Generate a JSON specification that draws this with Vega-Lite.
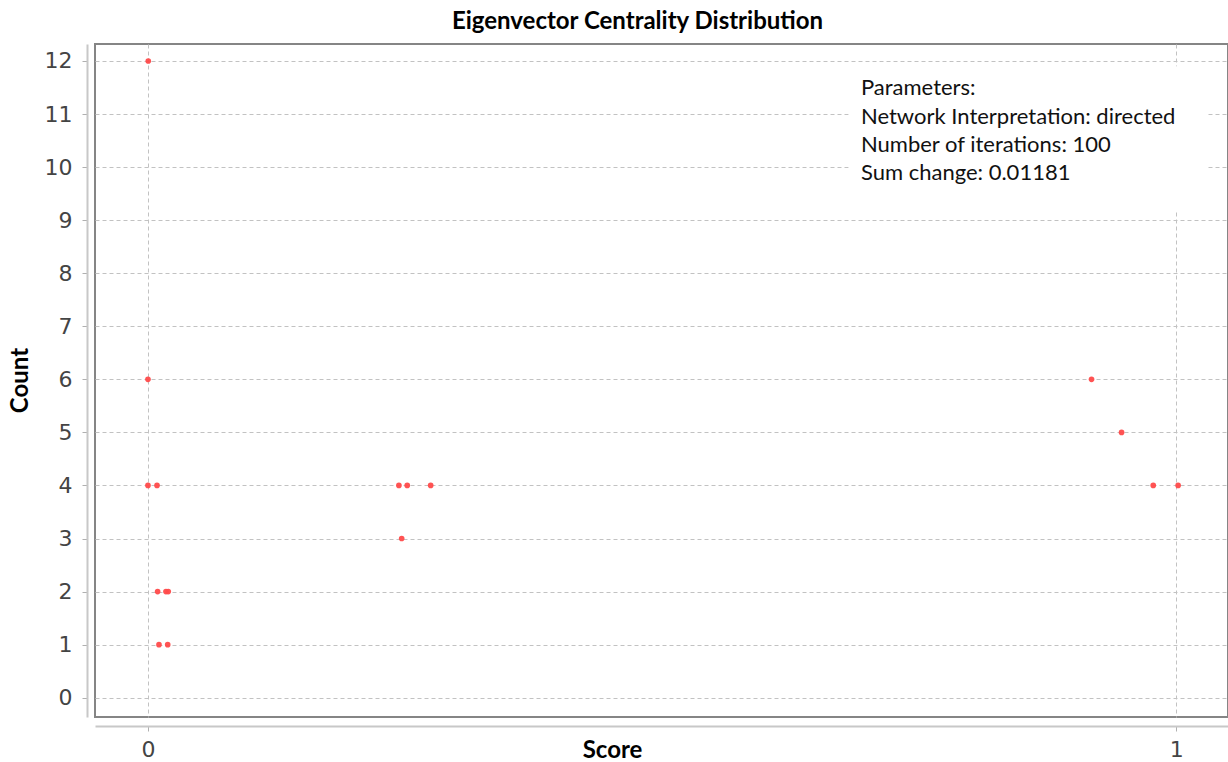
{
  "$schema": "https://vega.github.io/schema/vega-lite/v6.json",
  "autosize": "none",
  "padding": {"left": 95, "top": 44, "right": 0, "bottom": 45},
  "width": 1133,
  "height": 673,
  "background": "white",
  "title": {
    "text": "Eigenvector Centrality Distribution",
    "anchor": "middle",
    "frame": "group",
    "dx": -24,
    "dy": 24,
    "baseline": "alphabetic",
    "offset": 15,
    "font": "Lato",
    "fontSize": 24,
    "fontWeight": "bold",
    "color": "#000000"
  },
  "config": {
    "view": {"stroke": "#858585", "strokeWidth": 2},
    "axis": {
      "grid": true,
      "gridColor": "#c2c2c2",
      "gridDash": [4, 3],
      "gridWidth": 1,
      "domainColor": "#c8c8c8",
      "domainWidth": 2,
      "tickColor": "#b0b0b0",
      "tickSize": 5,
      "labelFont": "DejaVu Sans",
      "labelFontSize": 22,
      "labelColor": "#444444",
      "titleFont": "Lato",
      "titleFontSize": 24,
      "titleFontWeight": "bold",
      "titleColor": "#000000"
    }
  },
  "datasets": {
    "points": [
      {"score": 0.0003, "count": 12},
      {"score": 0.0, "count": 6},
      {"score": 0.0, "count": 4},
      {"score": 0.0088, "count": 4},
      {"score": 0.244, "count": 4},
      {"score": 0.2521, "count": 4},
      {"score": 0.2749, "count": 4},
      {"score": 0.2467, "count": 3},
      {"score": 0.9175, "count": 6},
      {"score": 0.9467, "count": 5},
      {"score": 0.9775, "count": 4},
      {"score": 1.0017, "count": 4},
      {"score": 0.0094, "count": 2},
      {"score": 0.0175, "count": 2},
      {"score": 0.0197, "count": 2},
      {"score": 0.0107, "count": 1},
      {"score": 0.0192, "count": 1}
    ],
    "box": [
      {"x1": 0.6815, "x2": 1.0295, "y1": 11.9, "y2": 9.16}
    ],
    "notes": [
      {"x": 0.6933, "y": 11.35, "line": "Parameters:"},
      {"x": 0.6933, "y": 10.82, "line": "Network Interpretation: directed"},
      {"x": 0.6933, "y": 10.28, "line": "Number of iterations: 100"},
      {"x": 0.6933, "y": 9.76, "line": "Sum change: 0.01181"}
    ]
  },
  "layer": [
    {
      "data": {"name": "points"},
      "mark": {"type": "circle", "size": 32, "color": "#ff4a4a", "opacity": 0.95},
      "encoding": {
        "x": {
          "field": "score",
          "type": "quantitative",
          "scale": {"domain": [-0.0515, 1.0502], "nice": false, "zero": false},
          "axis": {
            "values": [0, 1],
            "format": "d",
            "offset": 9,
            "labelPadding": 8,
            "title": "Score",
            "titleX": 517,
            "titleY": 24,
            "titleAnchor": "middle",
            "titleAlign": "center",
            "titleBaseline": "middle"
          }
        },
        "y": {
          "field": "count",
          "type": "quantitative",
          "scale": {"domain": [-0.364, 12.32], "nice": false, "zero": false},
          "axis": {
            "values": [0, 1, 2, 3, 4, 5, 6, 7, 8, 9, 10, 11, 12],
            "format": "d",
            "offset": 8,
            "labelPadding": 10,
            "title": "Count",
            "titleX": -67,
            "titleY": 336,
            "titleAngle": -90,
            "titleAlign": "center",
            "titleBaseline": "middle"
          }
        }
      }
    },
    {
      "data": {"name": "box"},
      "mark": {"type": "rect", "fill": "white", "stroke": null},
      "encoding": {
        "x": {"field": "x1", "type": "quantitative"},
        "x2": {"field": "x2"},
        "y": {"field": "y1", "type": "quantitative"},
        "y2": {"field": "y2"}
      }
    },
    {
      "data": {"name": "notes"},
      "mark": {"type": "text", "align": "left", "baseline": "alphabetic", "font": "Lato", "fontSize": 22, "color": "#111111"},
      "encoding": {
        "x": {"field": "x", "type": "quantitative"},
        "y": {"field": "y", "type": "quantitative"},
        "text": {"field": "line", "type": "nominal"}
      }
    }
  ]
}
